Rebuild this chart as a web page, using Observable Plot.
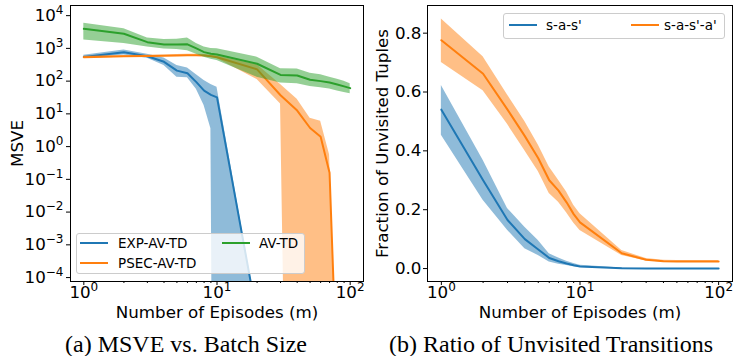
<!DOCTYPE html>
<html><head><meta charset="utf-8">
<script src="https://cdn.jsdelivr.net/npm/d3@7"></script>
<script src="https://cdn.jsdelivr.net/npm/@observablehq/plot@0.6"></script>
<style>
body{margin:0;background:#fff;}
#fig{position:relative;width:733px;height:356px;overflow:hidden;font-family:"DejaVu Sans";background:#fff;}
.panel{position:absolute;top:0;}
.legend{position:absolute;background:rgba(255,255,255,0.8);border:1px solid #ccc;border-radius:3px;box-sizing:border-box;}
.lab{position:absolute;font-size:13.5px;line-height:14px;white-space:nowrap;color:#000;}
.handle{position:absolute;height:2px;}
.caption{position:absolute;font-family:"Liberation Serif","Times New Roman",serif;font-size:24px;line-height:24px;white-space:nowrap;transform:translateX(-50%);color:#000;}
</style>
</head><body>
<div id="fig"></div>
<script>
// ---------- data: left panel (MSVE vs number of episodes) ----------
const episodes = [1,2,3,4,5,6,7,8,9,10,20,30,40,50,60,70,80,90,100];
const expMean  = [550, 760, 575, 389, 209, 174, 93, 51, 38, 32, 6.3e-6];
const expUpper = [617, 891, 661, 513, 302, 251, 158, 105, 79, 65, 8e-6];
const expLower = [490, 631, 501, 302, 132, 126, 56, 18, 3.5, 0, 0];
const psecMean  = [537, 571, 585, 596, 603, 617, 617, 603, 575, 537, 229, 37, 12.6, 3.7, 2.0, 0.16, 4e-8];
const psecUpper = [575, 603, 617, 631, 646, 661, 661, 646, 617, 589, 316, 79, 28, 7.4, 6.0, 0.56, 5e-8];
const psecLower = [501, 537, 550, 562, 562, 575, 575, 562, 537, 490, 112, 20, 0, 0, 0, 0, 0];
const avMean  = [3960, 2790, 1550, 1320, 1310, 1330, 1000, 770, 690, 650, 340, 155, 148, 110, 100, 91, 79, 69, 61];
const avUpper = [5900, 3980, 2090, 1860, 1900, 2090, 1410, 1100, 1000, 980, 540, 240, 234, 174, 158, 132, 115, 100, 83];
const avLower = [1820, 1410, 1100, 955, 930, 850, 660, 540, 470, 430, 132, 87, 83, 69, 63, 58, 50, 45, 41];
const leftLabels = ["EXP-AV-TD", "PSEC-AV-TD", "AV-TD"];

// ---------- data: right panel (fraction of unvisited tuples) ----------
const sasMean  = [0.54, 0.30, 0.165, 0.10, 0.065, 0.036, 0.025, 0.017, 0.011, 0.007, 0.001, 0, 0, 0, 0, 0, 0, 0, 0];
const sasUpper = [0.622, 0.368, 0.204, 0.14, 0.095, 0.05, 0.036, 0.025, 0.017, 0.011, 0.002, 0.0005, 0, 0, 0, 0, 0, 0, 0];
const sasLower = [0.453, 0.232, 0.13, 0.067, 0.044, 0.022, 0.015, 0.01, 0.006, 0.004, 0, 0, 0, 0, 0, 0, 0, 0, 0];
const sasaMean  = [0.776, 0.662, 0.54, 0.45, 0.375, 0.30, 0.265, 0.225, 0.185, 0.157, 0.052, 0.03, 0.025, 0.024, 0.024, 0.024, 0.024, 0.024, 0.024];
const sasaUpper = [0.848, 0.72, 0.59, 0.50, 0.42, 0.345, 0.30, 0.26, 0.215, 0.186, 0.061, 0.034, 0.028, 0.027, 0.027, 0.027, 0.027, 0.027, 0.027];
const sasaLower = [0.70, 0.604, 0.49, 0.40, 0.33, 0.255, 0.225, 0.19, 0.155, 0.129, 0.044, 0.026, 0.022, 0.021, 0.021, 0.021, 0.021, 0.021, 0.021];
const rightLabels = ["s-a-s'", "s-a-s'-a'"];

// ---------- ticks and text ----------
const xMajorTicks = [1, 10, 100];
const xMinorTicks = [2,3,4,5,6,7,8,9,20,30,40,50,60,70,80,90];
const yLogTicks = [1e-4,1e-3,1e-2,1e-1,1,10,100,1000,10000];
const yLinTicks = [0, 0.2, 0.4, 0.6, 0.8];
const xLabel = "Number of Episodes (m)";
const leftYLabel = "MSVE";
const rightYLabel = "Fraction of Unvisited Tuples";
const captionA = "(a) MSVE vs. Batch Size";
const captionB = "(b) Ratio of Unvisited Transitions";

const C = {blue: "#1f77b4", orange: "#ff7f0e", green: "#2ca02c"};

// matplotlib-like clipping of non-positive values on a log axis
const pos = v => (v > 0 ? v : 1e-30);
function rows(xs, mean, lo, hi, logAxis) {
  const f = logAxis ? pos : (v => v);
  return mean.map((m, i) => ({x: xs[i], y: f(m), lo: f(lo[i]), hi: f(hi[i])}));
}
function seriesMarks(data, color) {
  return [
    Plot.line(data, {x: "x", y: "y", stroke: color, strokeWidth: 2, strokeLinejoin: "round", clip: true}),
    Plot.areaY(data, {x: "x", y1: "lo", y2: "hi", fill: color, fillOpacity: 0.5, clip: true})
  ];
}
const sup = d => `10^${Math.round(Math.log10(d))}`;
const baseStyle = {fontFamily: "DejaVu Sans", fontSize: "16.7px", color: "black", background: "transparent", overflow: "visible"};

const expData = rows(episodes, expMean, expLower, expUpper, true);
const psecData = rows(episodes, psecMean, psecLower, psecUpper, true);
const avData = rows(episodes, avMean, avLower, avUpper, true);

const left = Plot.plot({
  width: 372, height: 325,
  marginLeft: 70, marginRight: 9, marginTop: 5, marginBottom: 44,
  style: baseStyle,
  x: {type: "log", domain: [10 ** -0.1, 10 ** 2.1]},
  y: {type: "log", domain: [10 ** -4.12, 10 ** 4.31]},
  marks: [
    ...seriesMarks(expData, C.blue),
    ...seriesMarks(psecData, C.orange),
    ...seriesMarks(avData, C.green),
    Plot.frame({stroke: "black", strokeWidth: 1}),
    Plot.axisX({ticks: xMinorTicks, tickFormat: () => "", tickSize: 2, label: null}),
    Plot.axisX({ticks: xMajorTicks, tickFormat: sup, tickSize: 4, tickPadding: 1, label: xLabel, labelAnchor: "center", labelArrow: "none", labelOffset: 36}),
    Plot.axisY({ticks: yLogTicks, tickFormat: sup, tickSize: 4, tickPadding: 3, label: leftYLabel, labelAnchor: "center", labelArrow: "none", labelOffset: 59})
  ]
});

const sasData = rows(episodes, sasMean, sasLower, sasUpper, false);
const sasaData = rows(episodes, sasaMean, sasaLower, sasaUpper, false);

const right = Plot.plot({
  width: 375, height: 325,
  marginLeft: 69, marginRight: 1, marginTop: 5, marginBottom: 44,
  style: baseStyle,
  x: {type: "log", domain: [10 ** -0.1, 10 ** 2.1]},
  y: {domain: [-0.044, 0.894]},
  marks: [
    ...seriesMarks(sasData, C.blue),
    ...seriesMarks(sasaData, C.orange),
    Plot.frame({stroke: "black", strokeWidth: 1}),
    Plot.axisX({ticks: xMinorTicks, tickFormat: () => "", tickSize: 2, label: null}),
    Plot.axisX({ticks: xMajorTicks, tickFormat: sup, tickSize: 4, tickPadding: 1, label: xLabel, labelAnchor: "center", labelArrow: "none", labelOffset: 36}),
    Plot.axisY({ticks: yLinTicks, tickFormat: d3.format(".1f"), tickSize: 4, tickPadding: 2, label: rightYLabel, labelAnchor: "center", labelArrow: "none", labelOffset: 51})
  ]
});

function supify(svg) {
  svg.querySelectorAll("text").forEach(t => {
    const m = /^10\^(-?\d+)$/.exec(t.textContent);
    if (!m) return;
    t.textContent = "10";
    const s = document.createElementNS("http://www.w3.org/2000/svg", "tspan");
    s.setAttribute("dy", "-7px");
    s.setAttribute("font-size", "12px");
    s.textContent = m[1].replace("-", "\u2212");
    t.appendChild(s);
  });
}
supify(left); supify(right);

const fig = document.getElementById("fig");
const wrapL = document.createElement("div"); wrapL.className = "panel"; wrapL.style.left = "0px"; wrapL.appendChild(left);
const wrapR = document.createElement("div"); wrapR.className = "panel"; wrapR.style.left = "358px"; wrapR.appendChild(right);
fig.appendChild(wrapL); fig.appendChild(wrapR);

function legend(box, items) {
  const b = document.createElement("div");
  b.className = "legend";
  Object.assign(b.style, {left: box[0] + "px", top: box[1] + "px", width: box[2] + "px", height: box[3] + "px"});
  fig.appendChild(b);
  items.forEach(it => {
    const h = document.createElement("div");
    h.className = "handle";
    Object.assign(h.style, {left: it.hx + "px", top: (it.y - 1) + "px", width: "28px", background: it.color});
    fig.appendChild(h);
    const t = document.createElement("div");
    t.className = "lab";
    t.textContent = it.label;
    Object.assign(t.style, {left: it.tx + "px", top: (it.y - 7) + "px"});
    fig.appendChild(t);
  });
}
legend([76, 233, 229, 41], [
  {label: leftLabels[0], color: C.blue, hx: 80, tx: 118, y: 243},
  {label: leftLabels[1], color: C.orange, hx: 80, tx: 118, y: 263},
  {label: leftLabels[2], color: C.green, hx: 222, tx: 259, y: 243}
]);
legend([503, 13, 222, 26], [
  {label: rightLabels[0], color: C.blue, hx: 509, tx: 546, y: 25},
  {label: rightLabels[1], color: C.orange, hx: 631, tx: 664, y: 25}
]);

function caption(text, cx, top) {
  const c = document.createElement("div");
  c.className = "caption";
  c.textContent = text;
  Object.assign(c.style, {left: cx + "px", top: top + "px"});
  fig.appendChild(c);
}
caption(captionA, 186, 332);
caption(captionB, 551, 332);
</script>
</body></html>
